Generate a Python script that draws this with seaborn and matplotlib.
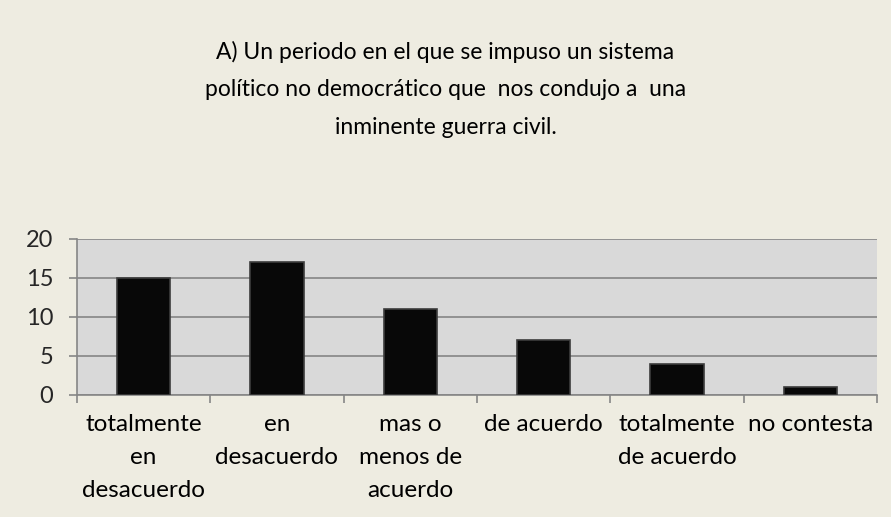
import numpy as np
import pandas as pd
import matplotlib.pyplot as plt
import seaborn as sns

# data
categories = ['totalmente\nen\ndesacuerdo', 'en\ndesacuerdo', 'mas o\nmenos de\nacuerdo',
              'de acuerdo', 'totalmente\nde acuerdo', 'no contesta']
values = [15, 17, 11, 7, 4, 1]
yticks = [0, 5, 10, 15, 20]
title = ('A) Un periodo en el que se impuso un sistema\n'
         'político no democrático que  nos condujo a  una\n'
         'inminente guerra civil.')

df = pd.DataFrame({'cat': categories, 'val': values})

sns.set_style('white')
plt.rcParams['font.family'] = ['Lato', 'DejaVu Sans']

fig = plt.figure(figsize=(8.91, 5.17), dpi=100)
fig.patch.set_facecolor('#EEECE1')
ax = fig.add_axes([0.0864, 0.236, 0.8978, 0.302])
ax.set_facecolor('#D9D9D9')

sns.barplot(data=df, x='cat', y='val', ax=ax, color='#080808', width=0.4,
            edgecolor='#3c3c3c', linewidth=1.2, saturation=1, zorder=3)

ax.set_xlim(-0.5, len(categories) - 0.5)
ax.set_ylim(0, 20)
ax.set_yticks(yticks)
ax.yaxis.grid(True, color='#868686', linewidth=1.2, zorder=0)
ax.set_axisbelow(True)

# tick marks on category boundaries, labels centred under bars
ax.set_xticks(np.arange(-0.5, len(categories), 1), minor=True)
ax.tick_params(axis='x', which='minor', length=6, color='#868686', width=1.2)
ax.tick_params(axis='x', which='major', length=0, pad=14, labelsize=17.5)
ax.tick_params(axis='y', length=6, color='#868686', width=1.2, labelsize=17, pad=11)
ax.yaxis.set_ticks_position('left')
ax.xaxis.set_ticks_position('bottom')

for lbl in ax.get_xticklabels():
    lbl.set_linespacing(1.7)
    lbl.set_color('black')

for s in ['top', 'right']:
    ax.spines[s].set_visible(False)
for s in ['left', 'bottom']:
    ax.spines[s].set_color('#868686')
    ax.spines[s].set_linewidth(1.2)

ax.set_xlabel('')
ax.set_ylabel('')

fig.text(0.5, 0.921, title, ha='center', va='top', fontsize=16.5, linespacing=1.96,
         color='black')

fig.savefig('out.png', dpi=100, facecolor=fig.get_facecolor())
